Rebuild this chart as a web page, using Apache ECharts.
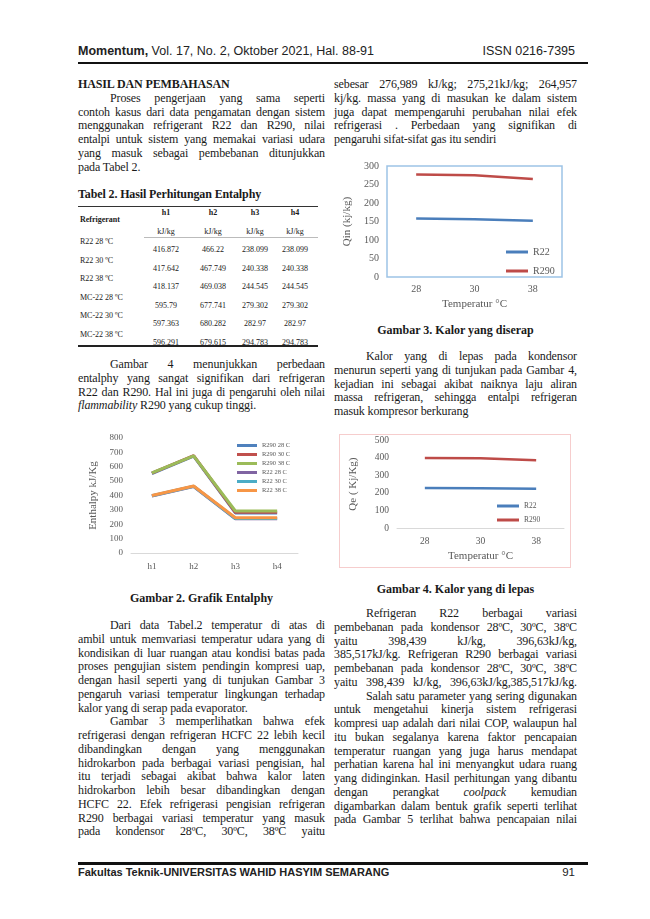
<!DOCTYPE html>
<html>
<head>
<meta charset="utf-8">
<script src="https://cdn.jsdelivr.net/npm/echarts@6/dist/echarts.min.js"></script>
<style>
html, body { margin: 0; padding: 0; background: #fff; }
.hal { position: relative; width: 650px; height: 919px; overflow: hidden; font-family: "Liberation Serif", "Times New Roman", serif; color: #1a1a1a; }
.kol { position: absolute; font-size: 12px; line-height: 13.75px; letter-spacing: -0.12px; }
.kol div { text-align: justify; text-align-last: justify; }
.kol div.a { text-align-last: left; }
.kol div.i { text-indent: 32px; }
.kol div.c { text-align: center; text-align-last: center; font-weight: bold; }
.kol div.b { font-weight: bold; text-align-last: left; }
.kepala { position: absolute; left: 78px; top: 44px; width: 497px; font-family: "Liberation Sans", Arial, sans-serif; font-size: 12.5px; color: #222; }
.kepala span.r { position: absolute; right: 0; top: 0; }
.garis { position: absolute; left: 78px; width: 510px; background: #111; }
.kaki { position: absolute; left: 78px; top: 866px; width: 497px; font-family: "Liberation Sans", Arial, sans-serif; font-size: 11px; font-weight: bold; color: #222; }
.kaki span.r { position: absolute; right: 0; top: 0; font-weight: normal; font-size: 11.5px; }
.judul { position: absolute; font-size: 12px; font-weight: bold; text-align: center; }
#tabel { position: absolute; left: 78px; top: 189px; width: 240px; font-size: 8px; }
#tabel .t { position: absolute; white-space: nowrap; }
.grafik { position: absolute; }
</style>
</head>
<body>
<div class="hal">

  <div class="kepala"><b>Momentum,</b> Vol. 17, No. 2, Oktober 2021, Hal. 88-91<span class="r">ISSN 0216-7395</span></div>
  <div class="garis" style="top:62px;height:2px;"></div>

  <!-- kolom kiri -->
  <div class="kol" style="left:78px;top:78px;width:247px;">
    <div class="b">HASIL DAN PEMBAHASAN</div>
    <div class="i">Proses pengerjaan yang sama seperti</div>
    <div>contoh kasus dari data pengamatan dengan sistem</div>
    <div>menggunakan refrigerant R22 dan R290, nilai</div>
    <div>entalpi untuk sistem yang memakai variasi udara</div>
    <div>yang masuk sebagai pembebanan ditunjukkan</div>
    <div class="a">pada Tabel 2.</div>
  </div>

  <div class="kol" style="left:78px;top:188px;width:247px;">
    <div class="b">Tabel 2. Hasil Perhitungan Entalphy</div>
  </div>
  <div id="tabel"></div>

  <div class="kol" style="left:78px;top:358px;width:247px;">
    <div class="i">Gambar 4 menunjukkan perbedaan</div>
    <div>entalphy yang sangat signifikan dari refrigeran</div>
    <div>R22 dan R290. Hal ini juga di pengaruhi oleh nilai</div>
    <div class="a"><i>flammability</i> R290 yang cukup tinggi.</div>
  </div>

  <div class="grafik" id="grafik2" style="left:78px;top:425px;width:247px;height:160px;"></div>
  <div class="judul" style="left:78px;top:591px;width:247px;">Gambar 2. Grafik Entalphy</div>

  <div class="kol" style="left:78px;top:619px;width:247px;">
    <div class="i">Dari data Tabel.2 temperatur di atas di</div>
    <div>ambil untuk memvariasi temperatur udara yang di</div>
    <div>kondisikan di luar ruangan atau kondisi batas pada</div>
    <div>proses pengujian sistem pendingin kompresi uap,</div>
    <div>dengan hasil seperti yang di tunjukan Gambar 3</div>
    <div>pengaruh variasi temperatur lingkungan terhadap</div>
    <div class="a">kalor yang di serap pada evaporator.</div>
    <div class="i">Gambar 3 memperlihatkan bahwa efek</div>
    <div>refrigerasi dengan refrigeran HCFC 22 lebih kecil</div>
    <div>dibandingkan dengan yang menggunakan</div>
    <div>hidrokarbon pada berbagai variasi pengisian, hal</div>
    <div>itu terjadi sebagai akibat bahwa kalor laten</div>
    <div>hidrokarbon lebih besar dibandingkan dengan</div>
    <div>HCFC 22. Efek refrigerasi pengisian refrigeran</div>
    <div>R290 berbagai variasi temperatur yang masuk</div>
    <div>pada kondensor 28ºC, 30ºC, 38ºC yaitu</div>
  </div>

  <!-- kolom kanan -->
  <div class="kol" style="left:334px;top:78px;width:243px;">
    <div>sebesar 276,989 kJ/kg; 275,21kJ/kg; 264,957</div>
    <div>kj/kg. massa yang di masukan ke dalam sistem</div>
    <div>juga dapat mempengaruhi perubahan nilai efek</div>
    <div>refrigerasi . Perbedaan yang signifikan di</div>
    <div class="a">pengaruhi sifat-sifat gas itu sendiri</div>
  </div>

  <div class="grafik" id="grafik3" style="left:334px;top:155px;width:243px;height:160px;"></div>
  <div class="judul" style="left:334px;top:323px;width:243px;">Gambar 3. Kalor yang diserap</div>

  <div class="kol" style="left:334px;top:350px;width:243px;">
    <div class="i">Kalor yang di lepas pada kondensor</div>
    <div>menurun seperti yang di tunjukan pada Gambar 4,</div>
    <div>kejadian ini sebagai akibat naiknya laju aliran</div>
    <div>massa refrigeran, sehingga entalpi refrigeran</div>
    <div class="a">masuk kompresor berkurang</div>
  </div>

  <div class="grafik" id="grafik4" style="left:339px;top:434px;width:230px;height:132px;border:1px solid #f6cdcd;"></div>
  <div class="judul" style="left:334px;top:582px;width:243px;">Gambar 4. Kalor yang di lepas</div>

  <div class="kol" style="left:334px;top:607px;width:243px;">
    <div class="i">Refrigeran R22 berbagai variasi</div>
    <div>pembebanan pada kondensor 28ºC, 30ºC, 38ºC</div>
    <div>yaitu 398,439 kJ/kg, 396,63kJ/kg,</div>
    <div>385,517kJ/kg. Refrigeran R290 berbagai variasi</div>
    <div>pembebanan pada kondensor 28ºC, 30ºC, 38ºC</div>
    <div>yaitu 398,439 kJ/kg, 396,63kJ/kg,385,517kJ/kg.</div>
    <div class="i">Salah satu parameter yang sering digunakan</div>
    <div>untuk mengetahui kinerja sistem refrigerasi</div>
    <div>kompresi uap adalah dari nilai COP, walaupun hal</div>
    <div>itu bukan segalanya karena faktor pencapaian</div>
    <div>temperatur ruangan yang juga harus mendapat</div>
    <div>perhatian karena hal ini menyangkut udara ruang</div>
    <div>yang didinginkan. Hasil perhitungan yang dibantu</div>
    <div>dengan perangkat <i>coolpack</i> kemudian</div>
    <div>digambarkan dalam bentuk grafik seperti terlihat</div>
    <div>pada Gambar 5 terlihat bahwa pencapaian nilai</div>
  </div>

  <div class="garis" style="top:862px;height:2.5px;"></div>
  <div class="kaki">Fakultas Teknik-UNIVERSITAS WAHID HASYIM SEMARANG<span class="r">91</span></div>
</div>

<script>
// Tabel 2
var tabelRefrigeran = ["R22 28 ºC", "R22 30 ºC", "R22 38 ºC", "MC-22 28 ºC", "MC-22 30 ºC", "MC-22 38 ºC"];
var tabelH1 = ["416.872", "417.642", "418.137", "595.79", "597.363", "596.291"];
var tabelH2 = ["466.22", "467.749", "469.038", "677.741", "680.282", "679.615"];
var tabelH3 = ["238.099", "240.338", "244.545", "279.302", "282.97", "294.783"];
var tabelH4 = ["238.099", "240.338", "244.545", "279.302", "282.97", "294.783"];

// Gambar 2
var kategoriEntalpi = ["h1", "h2", "h3", "h4"];
var r290_28 = [553, 674, 279, 279];
var r290_30 = [555, 677, 283, 283];
var r290_38 = [557, 676, 292, 292];
var r22_28 = [397, 463, 238, 238];
var r22_30 = [398, 464, 240, 240];
var r22_38 = [400, 466, 245, 245];

// Gambar 3 dan 4
var kategoriSuhu = ["28", "30", "38"];
var qinR22 = [158, 156, 152];
var qinR290 = [277, 275, 265];
var qeR22 = [228, 226, 223];
var qeR290 = [398, 396, 385];

var huruf = "Liberation Serif";
var abu = "#595959";

// susun tabel
var kolomX = [88, 135, 177, 217];
var tabel = document.getElementById("tabel");
var isi = "";
isi += '<div style="position:absolute;left:0;top:17px;width:240px;height:1px;background:#333"></div>';
isi += '<div class="t" style="left:2px;top:26px;font-weight:bold">Refrigerant</div>';
var judulKolom = ["h1", "h2", "h3", "h4"];
for (var k = 0; k < 4; k++) {
  isi += '<div class="t" style="left:' + (kolomX[k] - 15) + 'px;width:30px;text-align:center;top:19px;font-weight:bold">' + judulKolom[k] + '</div>';
  isi += '<div class="t" style="left:' + (kolomX[k] - 15) + 'px;width:30px;text-align:center;top:38px">kJ/kg</div>';
}
isi += '<div style="position:absolute;left:66px;top:48px;width:174px;height:1px;background:#bbb"></div>';
for (var i = 0; i < tabelRefrigeran.length; i++) {
  var yLabel = 48 + i * 18.6;
  isi += '<div class="t" style="left:2px;top:' + yLabel + 'px">' + tabelRefrigeran[i] + '</div>';
  var nilai = [tabelH1[i], tabelH2[i], tabelH3[i], tabelH4[i]];
  for (var k2 = 0; k2 < 4; k2++) {
    isi += '<div class="t" style="left:' + (kolomX[k2] - 20) + 'px;width:40px;text-align:center;top:' + (yLabel + 8) + 'px">' + nilai[k2] + '</div>';
  }
}
isi += '<div style="position:absolute;left:0;top:156px;width:240px;height:1.5px;background:#222"></div>';
tabel.innerHTML = isi;

function seriGaris(nama, data, warna, tebal) {
  return {
    name: nama,
    type: "line",
    data: data,
    symbol: "none",
    lineStyle: { color: warna, width: tebal },
    itemStyle: { color: warna }
  };
}

// Gambar 2. Grafik Entalphy
var grafik2 = echarts.init(document.querySelector("#grafik2"));
var option2 = {
  animation: false,
  grid: { left: 53, right: 27, top: 13, bottom: 32 },
  legend: {
    orient: "vertical",
    left: 154,
    top: 12,
    icon: "rect",
    itemWidth: 20,
    itemHeight: 3,
    itemGap: 2,
    textStyle: { fontFamily: huruf, fontSize: 6.5, color: abu }
  },
  xAxis: {
    type: "category",
    data: kategoriEntalpi,
    axisLine: { lineStyle: { color: "#d9d9d9" } },
    axisTick: { show: false },
    axisLabel: { fontFamily: huruf, fontSize: 9, color: abu, margin: 9 }
  },
  yAxis: {
    type: "value",
    min: 0,
    max: 800,
    interval: 100,
    name: "Enthalpy kJ/Kg",
    nameLocation: "middle",
    nameGap: 26,
    nameTextStyle: { fontFamily: huruf, fontSize: 11, color: abu },
    splitLine: { show: false },
    axisLine: { show: false },
    axisLabel: { fontFamily: huruf, fontSize: 9, color: abu, margin: 8 }
  },
  series: [
    seriGaris("R290 28 C", r290_28, "#4f81bd", 3),
    seriGaris("R290 30 C", r290_30, "#c0504d", 3),
    seriGaris("R290 38 C", r290_38, "#9bbb59", 3),
    seriGaris("R22 28 C", r22_28, "#8064a2", 3),
    seriGaris("R22 30 C", r22_30, "#4bacc6", 3),
    seriGaris("R22 38 C", r22_38, "#f79646", 3)
  ]
};
grafik2.setOption(option2);

// Gambar 3. Kalor yang diserap
var grafik3 = echarts.init(document.querySelector("#grafik3"));
var option3 = {
  animation: false,
  grid: { left: 53, right: 15, top: 11, bottom: 34, show: true, borderColor: "#9dc3e6", borderWidth: 1.5 },
  legend: {
    orient: "vertical",
    left: 167,
    top: 87,
    icon: "rect",
    itemWidth: 22,
    itemHeight: 3,
    itemGap: 9,
    textStyle: { fontFamily: huruf, fontSize: 10, color: abu }
  },
  xAxis: {
    type: "category",
    data: kategoriSuhu,
    name: "Temperatur °C",
    nameLocation: "middle",
    nameGap: 17,
    nameTextStyle: { fontFamily: huruf, fontSize: 11, color: abu },
    axisLine: { show: false },
    axisTick: { show: false },
    axisLabel: { fontFamily: huruf, fontSize: 10, color: abu, margin: 7 }
  },
  yAxis: {
    type: "value",
    min: 0,
    max: 300,
    interval: 50,
    name: "Qin (kj/kg)",
    nameLocation: "middle",
    nameGap: 29,
    nameTextStyle: { fontFamily: huruf, fontSize: 11, color: abu },
    splitLine: { show: false },
    axisLine: { show: false },
    axisLabel: { fontFamily: huruf, fontSize: 10, color: abu, margin: 8 }
  },
  series: [
    seriGaris("R22", qinR22, "#4a7ebb", 2.5),
    seriGaris("R290", qinR290, "#be4b48", 2.5)
  ]
};
grafik3.setOption(option3);

// Gambar 4. Kalor yang di lepas
var grafik4 = echarts.init(document.querySelector("#grafik4"));
var option4 = {
  animation: false,
  grid: { left: 56, right: 6, top: 4, bottom: 29 },
  legend: {
    orient: "vertical",
    left: 152,
    top: 62,
    icon: "rect",
    itemWidth: 22,
    itemHeight: 3,
    itemGap: 6,
    textStyle: { fontFamily: huruf, fontSize: 7.5, color: abu }
  },
  xAxis: {
    type: "category",
    data: kategoriSuhu,
    name: "Temperatur °C",
    nameLocation: "middle",
    nameGap: 15,
    nameTextStyle: { fontFamily: huruf, fontSize: 11, color: abu },
    axisLine: { lineStyle: { color: "#d9d9d9" } },
    axisTick: { show: false },
    axisLabel: { fontFamily: huruf, fontSize: 9.5, color: abu, margin: 8 }
  },
  yAxis: {
    type: "value",
    min: 0,
    max: 500,
    interval: 100,
    name: "Qe ( Kj/Kg)",
    nameLocation: "middle",
    nameGap: 38,
    nameTextStyle: { fontFamily: huruf, fontSize: 11, color: abu },
    splitLine: { show: false },
    axisLine: { show: false },
    axisLabel: { fontFamily: huruf, fontSize: 9.5, color: abu, margin: 8 }
  },
  series: [
    seriGaris("R22", qeR22, "#4a7ebb", 2.5),
    seriGaris("R290", qeR290, "#be4b48", 2.5)
  ]
};
grafik4.setOption(option4);
</script>
</body>
</html>
